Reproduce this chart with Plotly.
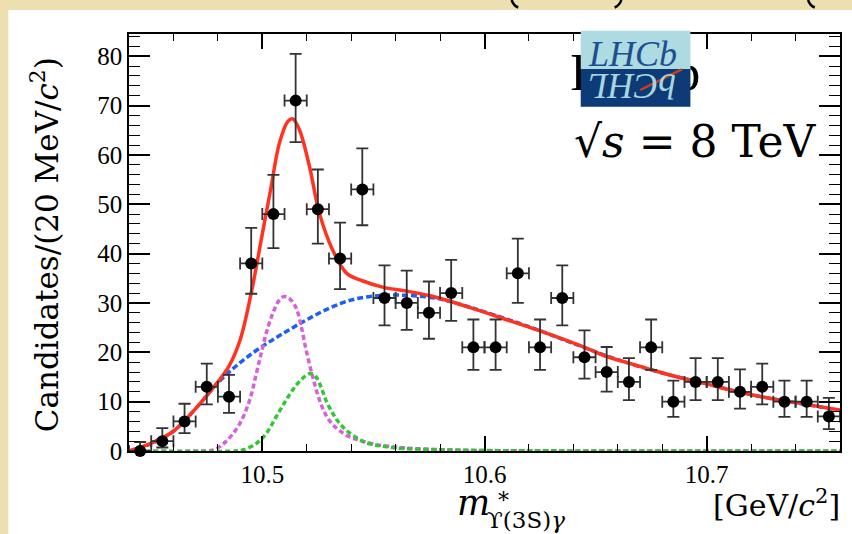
import plotly.graph_objects as go

# ---------------- data ----------------
mass = [10.445, 10.455, 10.465, 10.475, 10.485, 10.495, 10.505, 10.515,
        10.525, 10.535, 10.545, 10.555, 10.565, 10.575, 10.585, 10.595,
        10.605, 10.615, 10.625, 10.635, 10.645, 10.655, 10.665, 10.675,
        10.685, 10.695, 10.705, 10.715, 10.725, 10.735, 10.745, 10.755]
counts = [0, 2, 6, 13, 11, 38, 48, 71, 49, 39, 53, 31, 30, 28, 32, 21,
          21, 36, 21, 31, 19, 16, 14, 21, 10, 14, 14, 12, 13, 10, 10, 7]
bin_half = 0.005

# fit total
tot_x = [10.440, 10.450, 10.460, 10.470, 10.480, 10.485, 10.490, 10.495,
         10.500, 10.504, 10.5077, 10.5115, 10.5137, 10.5167, 10.5212,
         10.5257, 10.5316, 10.538, 10.545, 10.555, 10.565, 10.575, 10.584,
         10.596, 10.608, 10.624, 10.644, 10.654, 10.665, 10.674, 10.686,
         10.699, 10.714, 10.7305, 10.744, 10.760]
tot_y = [0.0, 1.6, 4.0, 8.6, 14.0, 17.2, 22.5, 32.0,
         44.0, 53.6, 62.4, 66.8, 67.3, 65.1, 57.7,
         48.2, 40.8, 36.0, 34.5, 33.1, 32.4, 31.5, 30.4,
         28.7, 26.9, 24.5, 21.2, 19.3, 17.8, 16.6, 15.1,
         13.7, 12.0, 10.5, 9.5, 8.3]

# background component
bkg_x = [10.440, 10.450, 10.460, 10.470, 10.480, 10.490, 10.500, 10.510,
         10.520, 10.530, 10.540, 10.550, 10.560, 10.570, 10.580, 10.590,
         10.600, 10.620, 10.640, 10.660, 10.680, 10.700, 10.720, 10.740,
         10.760]
bkg_y = [0.0, 1.5, 4.0, 8.6, 13.8, 17.9, 21.2, 24.0,
         26.6, 28.9, 30.6, 31.4, 31.6, 31.4, 30.8, 29.6,
         28.2, 25.2, 21.8, 18.5, 15.8, 13.6, 11.4, 9.8,
         8.2]

# first signal component (magenta)
sig1_x = [10.440, 10.470, 10.478, 10.4838, 10.4898, 10.4943, 10.4972,
          10.4995, 10.5017, 10.5047, 10.5077, 10.5099, 10.5122, 10.5152,
          10.5174, 10.5197, 10.5227, 10.5256, 10.5286, 10.5316, 10.5346,
          10.5391, 10.5436, 10.550, 10.560, 10.570, 10.590, 10.620, 10.760]
sig1_y = [0.0, 0.0, 0.2, 2.0, 5.5, 10.3, 15.5,
          19.8, 23.8, 27.9, 30.6, 31.3, 30.9, 29.0,
          25.5, 20.5, 15.0, 10.5, 7.3, 5.4, 4.2,
          2.9, 2.2, 1.4, 0.8, 0.45, 0.15, 0.03, 0.0]

# second signal component (green)
sig2_x = [10.440, 10.488, 10.4912, 10.4972, 10.5017, 10.5062, 10.5107,
          10.5152, 10.5197, 10.5219, 10.5242, 10.5264, 10.5286, 10.5316,
          10.5346, 10.5391, 10.5436, 10.5466, 10.5585, 10.580, 10.600,
          10.640, 10.760]
sig2_y = [0.0, 0.0, 0.2, 1.5, 3.5, 6.9, 10.3,
          13.3, 15.3, 15.7, 15.0, 13.0, 10.3, 7.7,
          5.7, 3.7, 2.4, 1.7, 0.7, 0.25, 0.1,
          0.02, 0.0]

x_ticks = [10.5, 10.6, 10.7]
x_tick_text = ["10.5", "10.6", "10.7"]
y_ticks = [0, 10, 20, 30, 40, 50, 60, 70, 80]
y_tick_text = ["0", "10", "20", "30", "40", "50", "60", "70", "80"]

# Poisson (Gehrels) asymmetric errors derived from counts
err_up, err_dn = [], []
for n in counts:
    up = (n + 1) * (1 - 1 / (9 * (n + 1)) + 1 / (3 * (n + 1) ** 0.5)) ** 3 - n
    dn = 0.0 if n == 0 else n - n * (1 - 1 / (9 * n) - 1 / (3 * n ** 0.5)) ** 3
    err_up.append(up)
    err_dn.append(dn)

# ---------------- geometry helpers (pixels -> paper) ----------------
L, R, T, B = 129, 842, 34, 451
W, H = 852, 534


def PX(px):
    return (px - L) / (R - L)


def PY(py):
    return (B - py) / (B - T)


SERIF = "Liberation Serif"
LABEL = "DejaVu Serif"

fig = go.Figure()

fig.add_trace(go.Scatter(x=bkg_x, y=bkg_y, mode="lines",
                         line=dict(color="#1f5ef5", width=3.5, dash="6px,3px",
                                   shape="spline", smoothing=1.0),
                         hoverinfo="skip", showlegend=False))
fig.add_trace(go.Scatter(x=sig1_x, y=sig1_y, mode="lines",
                         line=dict(color="#d860d8", width=3.5, dash="5px,3px",
                                   shape="spline", smoothing=1.0),
                         hoverinfo="skip", showlegend=False))
fig.add_trace(go.Scatter(x=sig2_x, y=sig2_y, mode="lines",
                         line=dict(color="#35c435", width=3.5, dash="5px,3px",
                                   shape="spline", smoothing=1.0),
                         hoverinfo="skip", showlegend=False))
fig.add_trace(go.Scatter(x=tot_x, y=tot_y, mode="lines",
                         line=dict(color="#ff3320", width=3.5,
                                   shape="spline", smoothing=1.0),
                         hoverinfo="skip", showlegend=False))

fig.add_trace(go.Scatter(
    x=mass, y=counts, mode="markers",
    marker=dict(color="black", size=12, symbol="circle"),
    error_y=dict(type="data", symmetric=False, array=err_up, arrayminus=err_dn,
                 color="#333333", thickness=1.8, width=6),
    error_x=dict(type="constant", value=bin_half, color="#333333",
                 thickness=1.8, width=6),
    cliponaxis=False, showlegend=False))

# black "LHCb" text partly hidden by the logo
fig.add_trace(go.Scatter(
    x=[10.44 + (637 - L) / 2230.0], y=[(B - 77) / 4.934], mode="text",
    text=["LHCb"], textfont=dict(family=SERIF, size=52, color="black"),
    textposition="middle center", cliponaxis=False,
    hoverinfo="skip", showlegend=False))

shapes = [
    # white slide panel
    dict(type="rect", xref="paper", yref="paper", x0=PX(8), x1=PX(870),
         y0=PY(560), y1=PY(10), fillcolor="white", line=dict(width=0),
         layer="below"),
    # logo
    dict(type="rect", xref="paper", yref="paper", x0=PX(582), x1=PX(692),
         y0=PY(69), y1=PY(30.7), fillcolor="#aedae1", line=dict(width=0),
         layer="above"),
    dict(type="rect", xref="paper", yref="paper", x0=PX(582), x1=PX(692),
         y0=PY(106.7), y1=PY(69), fillcolor="#0c3b77", line=dict(width=0),
         layer="above"),
    dict(type="line", xref="paper", yref="paper", x0=PX(641.7), y0=PY(90),
         x1=PX(683.3), y1=PY(69.3), line=dict(color="#c8401a", width=2.5),
         layer="above"),
]
# fragments of cut-off slide-title glyphs at the very top
for (a, b, c) in [((512.7, 0), (514.5, 5.5), (519.3, 7.5)),
                  ((622.7, 0), (621.0, 5.5), (616.0, 7.5)),
                  ((810.0, 0), (811.8, 5.5), (816.7, 7.5))]:
    shapes.append(dict(
        type="path", xref="paper", yref="paper",
        path=f"M {PX(a[0])},{PY(a[1])} Q {PX(b[0])},{PY(b[1])} {PX(c[0])},{PY(c[1])}",
        line=dict(color="black", width=2.5)))

annotations = [
    dict(text="Candidates/(20 MeV/<i>c</i><sup>2</sup>)", xref="paper", yref="paper",
         x=PX(45), y=PY(245), textangle=-90, showarrow=False,
         xanchor="center", yanchor="middle",
         font=dict(family=LABEL, size=31, color="black")),
    dict(text="√<i>s</i> = 8 TeV", xref="paper", yref="paper",
         x=PX(697), y=PY(141), showarrow=False, xanchor="center", yanchor="middle",
         font=dict(family=LABEL, size=44, color="black")),
    dict(text="[GeV/<i>c</i><sup>2</sup>]", xref="paper", yref="paper",
         x=PX(844), y=PY(503), showarrow=False, xanchor="right", yanchor="middle",
         font=dict(family=LABEL, size=30, color="black")),
    dict(text="<i>m</i>", xref="paper", yref="paper",
         x=PX(474), y=PY(503), showarrow=False, xanchor="center", yanchor="middle",
         font=dict(family=LABEL, size=35, color="black")),
    dict(text="*", xref="paper", yref="paper",
         x=PX(497), y=PY(500), showarrow=False, xanchor="left", yanchor="middle",
         font=dict(family=LABEL, size=22, color="black")),
    dict(text="ϒ(3S)<i>γ</i>", xref="paper", yref="paper",
         x=PX(486), y=PY(520), showarrow=False, xanchor="left", yanchor="middle",
         font=dict(family=LABEL, size=23, color="black")),
    # logo lettering
    dict(text="<i>LHCb</i>", xref="paper", yref="paper",
         x=PX(634), y=PY(54), showarrow=False, xanchor="center", yanchor="middle",
         font=dict(family=SERIF, size=36, color="#1d4e8f")),
    dict(text="<i>bCHL</i>", xref="paper", yref="paper", textangle=180,
         x=PX(634), y=PY(86), showarrow=False, xanchor="center", yanchor="middle",
         font=dict(family=SERIF, size=36, color="#a9d6de")),
]

axis_common = dict(showline=True, linecolor="black", linewidth=1.6,
                   mirror="allticks", ticks="inside", tickcolor="black",
                   tickwidth=1.6, showgrid=False, zeroline=False,
                   tickfont=dict(family=SERIF, size=25, color="black"))

fig.update_layout(
    width=W, height=H,
    margin=dict(l=L, r=W - R, t=T, b=H - B, pad=0),
    paper_bgcolor="#eedfb0", plot_bgcolor="white",
    xaxis=dict(range=[10.44, 10.76], tickvals=x_ticks, ticktext=x_tick_text,
               ticklen=15,
               minor=dict(dtick=0.02, tick0=10.5, ticklen=7, ticks="inside",
                          tickcolor="black", tickwidth=1.4, showgrid=False),
               **axis_common),
    yaxis=dict(range=[0, 84.5], tickvals=y_ticks, ticktext=y_tick_text,
               ticklen=21,
               minor=dict(dtick=2, tick0=0, ticklen=11, ticks="inside",
                          tickcolor="black", tickwidth=1.4, showgrid=False),
               **axis_common),
    shapes=shapes, annotations=annotations, showlegend=False,
)

fig.write_html("out.html")
